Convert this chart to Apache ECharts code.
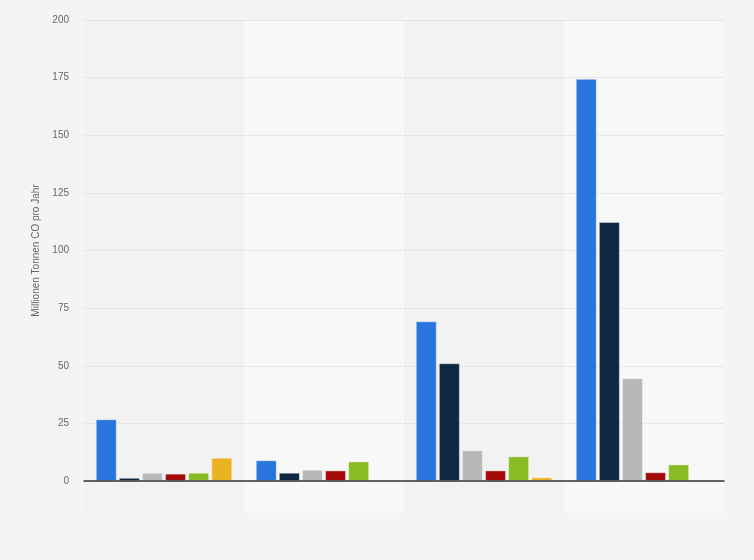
<!DOCTYPE html>
<html>
<head>
<meta charset="utf-8">
<script src="https://cdn.jsdelivr.net/npm/echarts@6/dist/echarts.min.js"></script>
<style>
  html, body { margin: 0; padding: 0; background: #f4f4f4; }
  #container { width: 754px; height: 560px; }
</style>
</head>
<body>
<div id="container"></div>
<script>
var categories = ['Gruppe 1', 'Gruppe 2', 'Gruppe 3', 'Gruppe 4'];
var yTicks = [0, 25, 50, 75, 100, 125, 150, 175, 200];

// Werte je Reihe (Millionen Tonnen CO pro Jahr)
var serie1 = [26.8, 9.0, 69.3, 174.5];
var serie2 = [1.4, 3.6, 51.1, 112.4];
var serie3 = [3.6, 4.9, 13.3, 44.6];
var serie4 = [3.2, 4.6, 4.6, 3.8];
var serie5 = [3.6, 8.5, 10.7, 7.2];
var serie6 = [10.1, null, 1.6, null];

var seriesNames = ['Serie 1', 'Serie 2', 'Serie 3', 'Serie 4', 'Serie 5', 'Serie 6'];
var seriesData = [serie1, serie2, serie3, serie4, serie5, serie6];
var colors = ['#2876dd', '#0f2740', '#b8b8b8', '#a30a0a', '#88bb24', '#ebb324'];

var dom = document.getElementById('container');
var myChart = echarts.init(dom, null, { renderer: 'canvas' });

var series = seriesData.map(function (d, i) {
  return {
    name: seriesNames[i],
    type: 'bar',
    xAxisIndex: 0,
    yAxisIndex: 0,
    barWidth: 21,
    barGap: '10%',
    data: d,
    z: 4,
    itemStyle: {
      color: colors[i],
      borderColor: 'rgba(255,255,255,0.4)',
      borderWidth: 1
    }
  };
});

var option = {
  backgroundColor: '#f4f4f4',
  textStyle: { fontFamily: 'Liberation Sans, Arial, sans-serif' },
  grid: [
    { left: 84, right: 30, top: 20, bottom: 79 },
    { left: 84, right: 30, top: 20, bottom: 47 }
  ],
  xAxis: [
    {
      type: 'category',
      gridIndex: 0,
      data: categories,
      axisLine: { lineStyle: { color: '#333', width: 1.5 } },
      axisTick: { show: false },
      axisLabel: { show: false },
      z: 5
    },
    {
      type: 'category',
      gridIndex: 1,
      data: categories,
      axisLine: { show: false },
      axisTick: { show: false },
      axisLabel: { show: false },
      splitArea: { show: true, areaStyle: { color: ['#f2f2f2', '#f8f8f8'] } },
      z: 0
    }
  ],
  yAxis: [
    {
      type: 'value',
      gridIndex: 0,
      min: 0,
      max: 200,
      interval: 25,
      name: 'Millionen Tonnen CO pro Jahr',
      nameLocation: 'middle',
      nameGap: 40,
      nameTextStyle: { color: '#666', fontSize: 10 },
      axisLine: { show: false },
      axisTick: { show: false },
      axisLabel: {
        color: '#666',
        fontSize: 10,
        margin: 15,
        formatter: function (v) { return yTicks.indexOf(v) >= 0 ? String(v) : ''; }
      },
      splitLine: { lineStyle: { color: '#d6d6d6', type: 'dotted' } },
      z: 3
    },
    {
      type: 'value',
      gridIndex: 1,
      min: 0,
      max: 1,
      show: false,
      splitLine: { show: false }
    }
  ],
  series: series
};

myChart.setOption(option);

window.addEventListener('resize', function () {
  myChart.resize();
});
</script>
</body>
</html>
